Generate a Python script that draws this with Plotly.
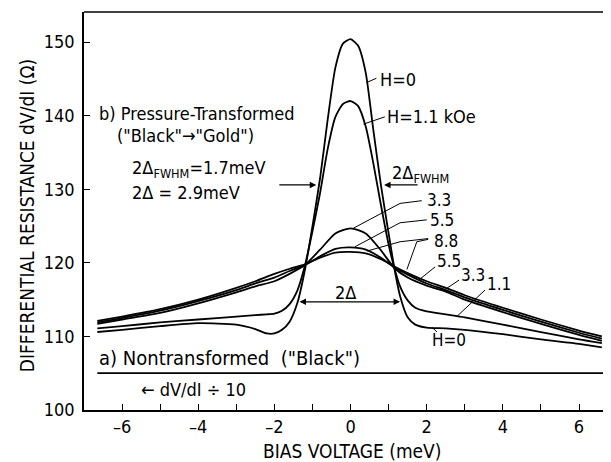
import plotly.graph_objects as go

# ---------------- data ----------------
bias = [-6.65, -6, -5, -4, -3, -2.5, -2.2, -2.0, -1.8, -1.6, -1.4, -1.2, -1.0, -0.8, -0.6,
        -0.4, -0.2, 0, 0.2, 0.4, 0.6, 0.8, 1.0, 1.15, 1.3, 1.5, 1.7, 2.0, 2.5, 3, 4, 5, 6, 6.6]
h0 = [110.6, 110.9, 111.4, 111.8, 111.6, 111.0, 110.4, 110.4, 110.9, 112.0, 114.5, 119.0, 125.0,
      131.5, 139.5, 146.5, 149.8, 150.4, 149.5, 145.8, 138.0, 130.5, 124.0, 119.3, 115.5, 112.6,
      111.6, 111.2, 111.1, 110.9, 110.3, 109.6, 109.0, 108.5]
h11 = [111.1, 111.4, 111.9, 112.3, 112.7, 112.9, 113.0, 113.1, 113.5, 114.4, 116.2, 119.6, 124.3,
       129.5, 135.5, 139.8, 141.6, 142.0, 141.3, 138.5, 133.5, 127.8, 122.5, 119.3, 116.8, 114.9,
       113.9, 113.4, 113.0, 112.6, 111.6, 110.6, 109.6, 109.1]

bias_b = [-6.65, -6, -5, -4, -3, -2.5, -2.0, -1.6, -1.2, -0.8, -0.4, 0, 0.4, 0.8, 1.15, 1.5, 2.0,
          2.5, 3, 4, 5, 6, 6.6]
h33 = [111.7, 112.3, 113.2, 114.5, 116.0, 116.8, 117.5, 118.5, 119.7, 121.8, 124.0, 124.7, 124.0,
       121.7, 119.3, 118.0, 116.9, 116.1, 115.0, 113.3, 111.7, 110.2, 109.4]
h55 = [111.9, 112.5, 113.5, 114.8, 116.3, 117.2, 118.0, 118.9, 119.7, 120.9, 121.9, 122.1, 121.8,
       120.7, 119.4, 118.4, 117.2, 116.3, 115.3, 113.6, 112.0, 110.5, 109.7]
h88 = [112.1, 112.7, 113.7, 115.0, 116.6, 117.5, 118.5, 119.2, 119.8, 120.7, 121.4, 121.5, 121.3,
       120.5, 119.5, 118.6, 117.5, 116.6, 115.6, 113.9, 112.3, 110.8, 110.0]

nontrans_x = [-6.65, 6.9]
nontrans_y = [105, 105]   # dV/dI / 10

x_ticks = [-6, -4, -2, 0, 2, 4, 6]
x_ticktext = ["–6", "–4", "–2", "0", "2", "4", "6"]
y_ticks = [100, 110, 120, 130, 140, 150]

FONT = "Liberation Sans Narrow, DejaVu Sans Condensed, Liberation Sans, sans-serif"
FS = 18
LW = 1.8

fig = go.Figure()
for y, xs in [(h0, bias), (h11, bias), (h33, bias_b), (h55, bias_b), (h88, bias_b)]:
    fig.add_trace(go.Scatter(x=xs, y=y, mode="lines", line=dict(color="black", width=LW,
                             shape="spline", smoothing=0.6), showlegend=False, hoverinfo="skip"))
fig.add_trace(go.Scatter(x=nontrans_x, y=nontrans_y, mode="lines",
                         line=dict(color="black", width=LW), showlegend=False, hoverinfo="skip"))

ann = []
def txt(x, y, s, xa="left", size=FS, **kw):
    ann.append(dict(x=x, y=y, xref="x", yref="y", text=s, showarrow=False, xanchor=xa,
                    yanchor="middle", font=dict(family=FONT, size=size, color="black"), **kw))

txt(-6.65, 140.35, "b) Pressure-Transformed")
txt(-6.18, 137.3, '("Black"→"Gold")')
txt(-5.79, 132.7, "2Δ<sub>FWHM</sub>=1.7meV")
txt(-5.79, 129.6, "2Δ = 2.9meV")
txt(-6.65, 107.1, 'a) Nontransformed  ("Black")', size=20)
txt(-5.55, 102.85, "← dV/dI ÷ 10")
txt(0.72, 144.9, "H=0")
txt(0.91, 139.95, "H=1.1 kOe")
txt(1.04, 132.1, "2Δ<sub>FWHM</sub>")
txt(1.96, 128.5, "3.3", size=17)
txt(2.04, 125.8, "5.5", size=17)
txt(2.14, 123.0, "8.8", size=17)
txt(2.22, 120.3, "5.5", size=17)
txt(2.85, 118.35, "3.3", size=17)
txt(3.53, 117.1, "1.1", size=17)
txt(2.59, 109.5, "H=0", xa="center", size=17)
txt(-0.14, 115.95, "2Δ", xa="center")

def arrow(x0, y0, x1, y1, side="end"):
    ann.append(dict(x=x1, y=y1, ax=x0, ay=y0, xref="x", yref="y", axref="x", ayref="y",
                    text="", showarrow=True, arrowhead=2, arrowsize=1, arrowwidth=1.3,
                    arrowside=side, arrowcolor="black", standoff=0, startstandoff=0))

arrow(-1.91, 130.6, -0.9, 130.6)
arrow(1.8, 130.6, 0.88, 130.6)
arrow(-1.38, 114.7, 1.3, 114.7, side="end+start")

shapes = []
def leader(pts):
    path = "M " + " L ".join(f"{x},{y}" for x, y in pts)
    shapes.append(dict(type="path", path=path, xref="x", yref="y",
                       line=dict(color="black", width=1)))

leader([(0.42, 144.5), (0.68, 145.1)])
leader([(0.34, 138.86), (0.9, 139.85)])
leader([(0.07, 124.7), (1.3, 128.08), (1.87, 128.45)])
leader([(0.12, 122.2), (1.3, 125.45), (2.0, 125.85)])
leader([(0.43, 121.6), (1.3, 122.87), (2.04, 123.3)])
leader([(1.48, 119.1), (1.74, 122.87), (2.04, 123.2)])
leader([(1.8, 117.7), (2.22, 119.45)])
leader([(2.43, 116.2), (2.85, 117.66)])
leader([(2.8, 112.75), (3.53, 116.3)])
leader([(2.14, 111.25), (2.27, 110.6)])
# top frame line
shapes.append(dict(type="line", xref="paper", yref="paper", x0=0, x1=1, y0=1, y1=1,
                   line=dict(color="black", width=1.5)))

ann.append(dict(x=-57 / 527, y=0.487, xref="paper", yref="paper", showarrow=False,
                text="DIFFERENTIAL RESISTANCE dV/dI (Ω)", textangle=-90, xanchor="center",
                yanchor="middle", font=dict(family=FONT, size=19, color="black")))
ann.append(dict(x=(352 - 84) / 527, y=-41 / 398, xref="paper", yref="paper", showarrow=False,
                text="BIAS VOLTAGE (meV)", xanchor="center", yanchor="middle",
                font=dict(family=FONT, size=19, color="black")))

# page body has an 8px margin: shift the figure so the plot box lands where the reference has it
fig.update_layout(
    width=603, height=454, margin=dict(l=76, r=0, t=4, b=52),
    paper_bgcolor="white", plot_bgcolor="white",
    font=dict(family=FONT, size=FS, color="black"),
    annotations=ann, shapes=shapes,
    xaxis=dict(range=[-7.0, 6.84], tickvals=x_ticks, ticktext=x_ticktext, ticks="inside",
               ticklen=6, tickwidth=1, tickcolor="black", showline=True, linecolor="black",
               linewidth=1.5, mirror=False, showgrid=False, zeroline=False,
               minor=dict(dtick=1, ticks="inside", ticklen=6, tickcolor="black", showgrid=False),
               tickfont=dict(family=FONT, size=FS, color="black")),
    yaxis=dict(range=[100, 154.1], tickvals=y_ticks, ticks="inside", ticklen=6, tickwidth=1,
               tickcolor="black", showline=True, linecolor="black", linewidth=1.5,
               showgrid=False, zeroline=False, ticklabelstandoff=4,
               tickfont=dict(family=FONT, size=FS, color="black")),
)

fig.write_html("out.html")
